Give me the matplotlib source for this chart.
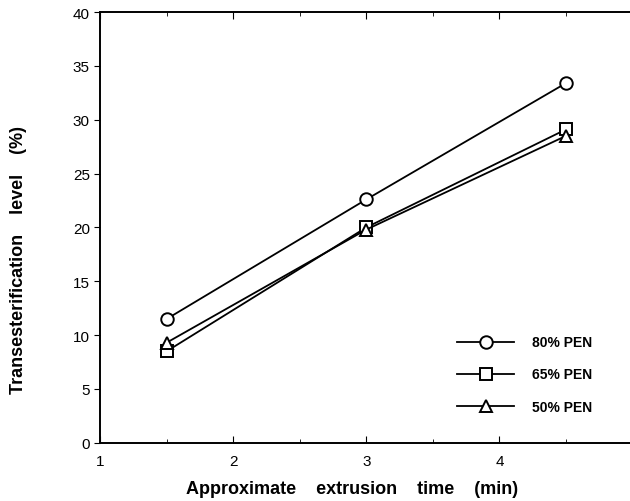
import numpy as np
import matplotlib
matplotlib.use("Agg")
import matplotlib.pyplot as plt
from matplotlib.ticker import MultipleLocator, FixedLocator

plt.rcParams['font.family'] = ['Liberation Sans', 'DejaVu Sans']

# data
time_min = [1.5, 3.0, 4.5]
pen80 = [11.5, 22.6, 33.4]
pen65 = [8.5, 20.0, 29.1]
pen50 = [9.3, 19.8, 28.5]

fig = plt.figure(figsize=(6.3, 5.02), dpi=100)
ax = fig.add_axes([0.159, 0.116, 0.845, 0.858])

mk = dict(color='black', lw=1.3, ms=9, mfc='white', mew=1.4)
ax.plot(time_min, pen80, marker='o', label='80% PEN', **mk)
ax.plot(time_min, pen65, marker='s', label='65% PEN', **mk)
ax.plot(time_min, pen50, marker='^', label='50% PEN', **mk)

ax.set_xlim(1, 5)
ax.set_ylim(0, 40)
ax.xaxis.set_major_locator(FixedLocator([1, 2, 3, 4]))
ax.xaxis.set_minor_locator(MultipleLocator(0.5))
ax.yaxis.set_major_locator(MultipleLocator(5))
ax.tick_params(axis='x', which='both', direction='in', top=True, labelsize=11, pad=8)
ax.tick_params(axis='x', which='major', length=5)
ax.tick_params(axis='x', which='minor', length=3)
ax.tick_params(axis='y', direction='out', right=True, length=4, labelsize=11)
for s in ax.spines.values():
    s.set_linewidth(1.4)

ax.set_xlabel('Approximate    extrusion    time    (min)', fontsize=13,
              fontweight='bold')
ax.xaxis.set_label_coords(0.474, -0.086)
ax.set_ylabel('Transesterification    level    (%)', fontsize=13,
              fontweight='bold')
ax.yaxis.set_label_coords(-0.137, 0.427)

leg = ax.legend(loc='lower right', bbox_to_anchor=(0.935, 0.055), frameon=False,
                handlelength=4.1, handletextpad=1.3, labelspacing=1.3,
                borderaxespad=0, prop={'weight': 'bold', 'size': 10})

fig.savefig('out.png', dpi=100)
